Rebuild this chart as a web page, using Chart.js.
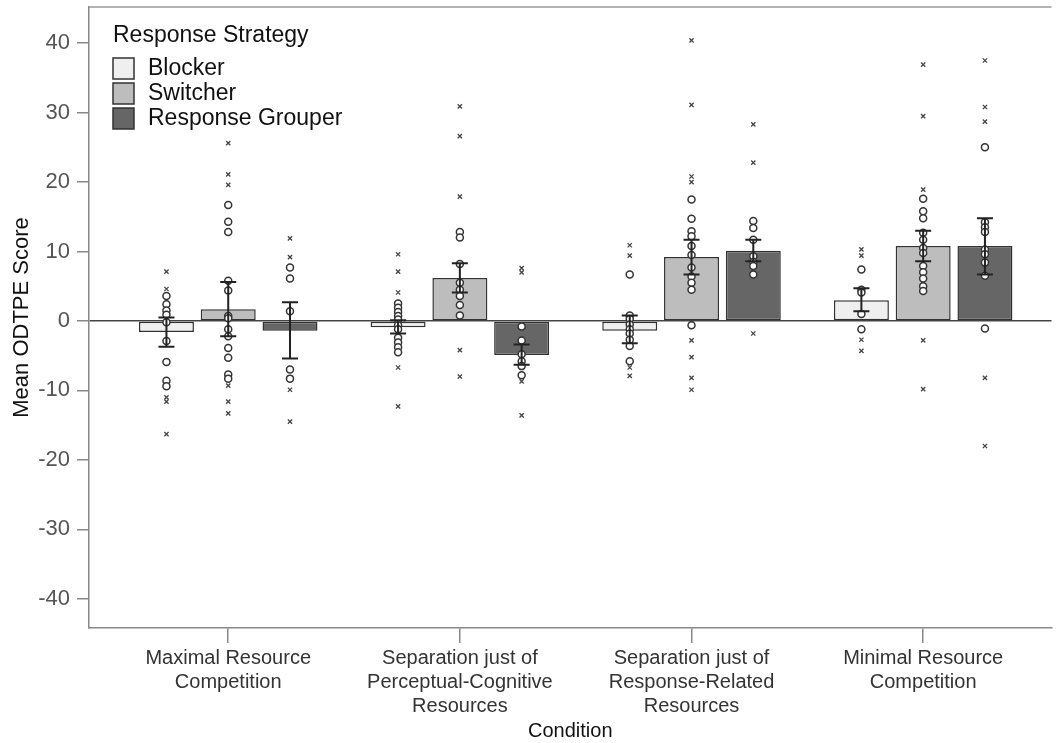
<!DOCTYPE html>
<html>
<head>
<meta charset="utf-8">
<script src="https://cdn.jsdelivr.net/npm/chart.js@4.4.0/dist/chart.umd.min.js"></script>
<style>
  html, body { margin: 0; padding: 0; background: #fff; overflow: hidden; }
  canvas { display: block; }
</style>
</head>
<body>
<canvas id="chart" width="1057" height="743"></canvas>
<script>
const conditions = [
    ['Maximal Resource', 'Competition'],
    ['Separation just of', 'Perceptual-Cognitive', 'Resources'],
    ['Separation just of', 'Response-Related', 'Resources'],
    ['Minimal Resource', 'Competition']
];
const strategies = ['Blocker', 'Switcher', 'Response Grouper'];
const legendTitle = 'Response Strategy';
const yTicks = [-40, -30, -20, -10, 0, 10, 20, 30, 40];

// bar heights (means) per condition
const blockerMeans = [-1.6, -0.9, -1.4, 3.0];
const switcherMeans = [1.7, 6.2, 9.2, 10.8];
const grouperMeans = [-1.4, -4.9, 10.1, 10.8];

// error bar ends
const blockerLow = [-3.7, -1.8, -3.2, 1.4];
const blockerHigh = [0.5, 0.1, 0.8, 4.7];
const switcherLow = [-2.2, 4.1, 6.7, 8.6];
const switcherHigh = [5.6, 8.3, 11.7, 13.0];
const grouperLow = [-5.4, -6.3, 8.6, 6.7];
const grouperHigh = [2.7, -3.4, 11.7, 14.8];

// individual scores: circles and crosses (outliers)
const blockerCircles = [
    [3.6, 2.4, 1.5, 0.9, -0.2, -2.9, -5.9, -8.6, -9.4],
    [2.5, 1.9, 1.3, 0.7, 0.2, -0.6, -1.2, -2.4, -3.1, -3.8, -4.5],
    [6.7, 0.8, 0.3, -0.5, -1.2, -1.8, -2.7, -3.6, -5.8],
    [7.4, 4.5, 4.1, 1.0, -1.2]
];
const blockerCrosses = [
    [7.1, 4.6, -11.0, -11.6, -16.3],
    [9.6, 7.1, 4.1, -6.7, -12.3],
    [10.9, 9.4, -6.7, -7.9],
    [10.3, 9.4, -2.7, -4.3]
];
const switcherCircles = [
    [16.7, 14.3, 12.8, 5.8, 4.4, 0.7, 0.4, -1.2, -2.2, -3.9, -5.3, -7.7, -8.3],
    [12.8, 12.0, 8.2, 5.5, 4.5, 3.6, 2.3, 0.8],
    [17.5, 14.7, 12.9, 12.2, 10.8, 9.5, 7.7, 6.4, 5.5, 4.5, -0.6],
    [17.6, 15.8, 14.8, 12.7, 11.7, 10.5, 9.8, 7.9, 7.0, 6.1, 5.0, 4.3]
];
const switcherCrosses = [
    [25.6, 21.1, 19.6, -9.3, -11.6, -13.3],
    [30.9, 26.6, 17.9, -4.2, -8.0],
    [40.4, 31.1, 20.8, 20.0, -2.8, -5.2, -8.2, -9.9],
    [36.9, 29.5, 18.9, -2.8, -9.8]
];
const grouperCircles = [
    [7.7, 6.1, 1.4, -7.0, -8.3],
    [-0.8, -2.8, -4.8, -5.8, -6.5, -7.8],
    [14.4, 13.4, 11.7, 9.3, 8.5, 7.9, 6.7],
    [25.0, 14.2, 13.5, 12.8, 10.3, 9.6, 8.4, 6.5, -1.1]
];
const grouperCrosses = [
    [11.9, 9.2, -9.9, -14.5],
    [7.6, 7.0, -8.7, -13.6],
    [28.3, 22.8, -1.8],
    [37.5, 30.8, 28.7, -8.2, -18.0]
];

const means = [blockerMeans, switcherMeans, grouperMeans];
const lows = [blockerLow, switcherLow, grouperLow];
const highs = [blockerHigh, switcherHigh, grouperHigh];
const circles = [blockerCircles, switcherCircles, grouperCircles];
const crosses = [blockerCrosses, switcherCrosses, grouperCrosses];

const fills = ['#efefef', '#bdbdbd', '#666666'];
const FONT = '"Liberation Sans", Arial, sans-serif';
const slot = 0.8 / 3; // each bar takes a third of the group

function toPoints(lists, s) {
    const out = [];
    lists.forEach((vals, i) => vals.forEach(v => out.push({ x: i + (s - 1) * slot, y: v })));
    return out;
}

const datasets = [];
means.forEach((m, s) => {
    datasets.push({
        type: 'bar',
        label: strategies[s],
        order: 1,
        data: m.map((v, i) => ({ x: i, y: v })),
        backgroundColor: fills[s],
        borderColor: '#333',
        borderWidth: 1.5,
        borderSkipped: false,
        categoryPercentage: 0.8,
        barPercentage: 0.89
    });
});
circles.forEach((c, s) => {
    datasets.push({
        type: 'scatter',
        order: 0,
        data: toPoints(c, s),
        pointStyle: 'circle',
        pointRadius: 3.5,
        pointBackgroundColor: '#fff',
        pointBorderColor: '#333',
        pointBorderWidth: 1.5,
        showLine: false
    });
});
crosses.forEach((c, s) => {
    datasets.push({
        type: 'scatter',
        order: 0,
        data: toPoints(c, s),
        pointStyle: 'crossRot',
        pointRadius: 3,
        pointBorderColor: '#444',
        pointBorderWidth: 1.3,
        showLine: false
    });
});

const errorBars = {
    id: 'errorBars',
    afterDatasetsDraw(chart) {
        const y = chart.scales.y;
        const ctx = chart.ctx;
        ctx.save();
        ctx.strokeStyle = '#222';
        ctx.lineWidth = 2;
        lows.forEach((lo, s) => {
            chart.getDatasetMeta(s).data.forEach((bar, i) => {
                const top = y.getPixelForValue(highs[s][i]);
                const bot = y.getPixelForValue(lo[i]);
                ctx.beginPath();
                ctx.moveTo(bar.x, top); ctx.lineTo(bar.x, bot);
                ctx.moveTo(bar.x - 8, top); ctx.lineTo(bar.x + 8, top);
                ctx.moveTo(bar.x - 8, bot); ctx.lineTo(bar.x + 8, bot);
                ctx.stroke();
            });
        });
        ctx.restore();
    }
};

const frameAndLegend = {
    id: 'frameAndLegend',
    beforeDatasetsDraw(chart) {
        const a = chart.chartArea;
        const ctx = chart.ctx;
        ctx.save();
        ctx.strokeStyle = '#999';
        ctx.lineWidth = 1.5;
        ctx.beginPath();
        ctx.moveTo(a.left, a.top); ctx.lineTo(a.right, a.top);
        ctx.stroke();
        ctx.restore();
    },
    afterDraw(chart) {
        const a = chart.chartArea;
        const ctx = chart.ctx;
        const left = a.left + 24;
        ctx.save();
        ctx.font = '23px ' + FONT;
        ctx.textBaseline = 'middle';
        ctx.fillStyle = '#111';
        ctx.fillText(legendTitle, left, a.top + 29);
        strategies.forEach((name, s) => {
            const top = a.top + 51 + s * 25;
            ctx.fillStyle = fills[s];
            ctx.fillRect(left, top, 21, 21);
            ctx.strokeStyle = '#333';
            ctx.lineWidth = 1.5;
            ctx.strokeRect(left, top, 21, 21);
            ctx.fillStyle = '#111';
            ctx.fillText(name, left + 35, top + 11);
        });
        ctx.restore();
    }
};

new Chart(document.getElementById('chart'), {
    type: 'bar',
    data: { datasets: datasets },
    options: {
        responsive: false,
        animation: false,
        layout: { padding: { top: 7, left: 0, right: 0, bottom: 0 } },
        plugins: { legend: { display: false }, tooltip: { enabled: false } },
        scales: {
            x: {
                type: 'linear',
                min: -0.601,
                max: 3.554,
                offset: false,
                bounds: 'data',
                afterBuildTicks: s => { s.ticks = conditions.map((c, i) => ({ value: i })); },
                afterFit: s => { s.height = 115; s.paddingLeft = 0; s.paddingRight = 0; },
                grid: { offset: false, drawOnChartArea: false, tickLength: 15, tickColor: '#888', lineWidth: 1.5 },
                border: { color: '#888', width: 1.5 },
                ticks: {
                    autoSkip: false,
                    maxRotation: 0,
                    padding: 3,
                    color: '#333',
                    font: { family: FONT, size: 20, lineHeight: 1.2 },
                    callback: v => conditions[v]
                },
                title: {
                    display: true,
                    text: 'Condition',
                    color: '#111',
                    font: { family: FONT, size: 20, lineHeight: 1.2 },
                    padding: { top: 0, bottom: 0 }
                }
            },
            y: {
                min: -44.2,
                max: 45.2,
                afterBuildTicks: s => { s.ticks = yTicks.map(v => ({ value: v })); },
                afterFit: s => { s.width = 89; s.paddingTop = 0; s.paddingBottom = 0; },
                grid: {
                    color: c => (c.tick && c.tick.value === 0 ? '#444' : 'rgba(0,0,0,0)'),
                    tickColor: '#888',
                    tickLength: 12,
                    lineWidth: 1.5
                },
                border: { color: '#888', width: 1.5 },
                ticks: {
                    padding: 7,
                    color: '#555',
                    font: { family: FONT, size: 22 },
                    callback: v => String(v)
                },
                title: {
                    display: true,
                    text: 'Mean ODTPE Score',
                    color: '#111',
                    font: { family: FONT, size: 22, lineHeight: 1.2 },
                    padding: { top: 9, bottom: 0 }
                }
            }
        }
    },
    plugins: [errorBars, frameAndLegend]
});
</script>
</body>
</html>
